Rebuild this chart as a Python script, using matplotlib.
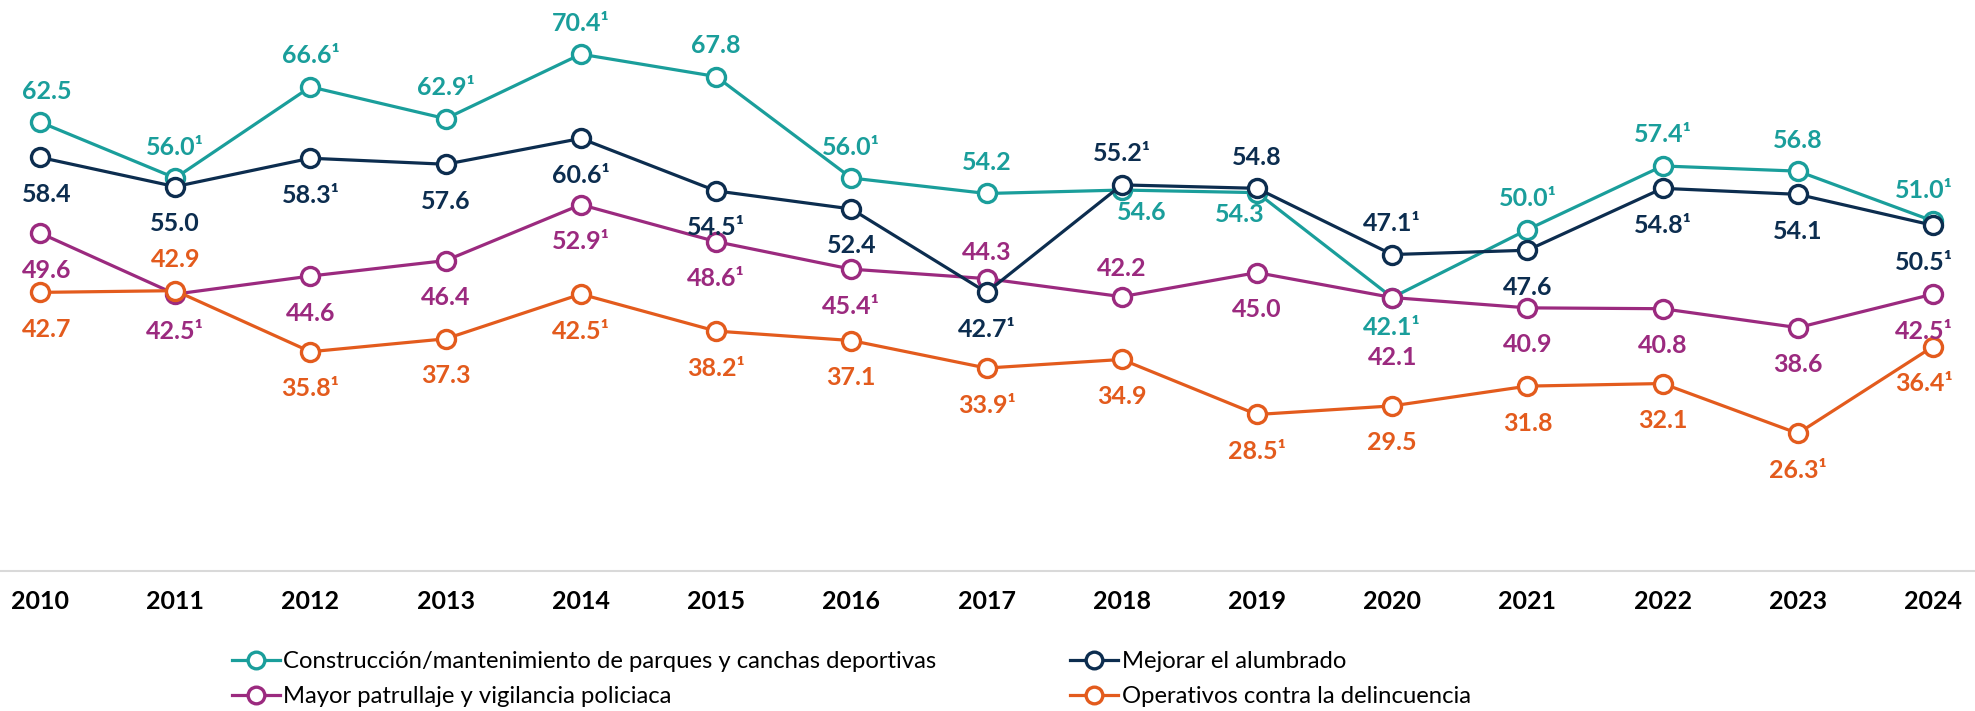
import matplotlib.pyplot as plt
from matplotlib.lines import Line2D

years = ["2010", "2011", "2012", "2013", "2014", "2015", "2016", "2017",
         "2018", "2019", "2020", "2021", "2022", "2023", "2024"]

parques = [62.5, 56.0, 66.6, 62.9, 70.4, 67.8, 56.0, 54.2, 54.6, 54.3, 42.1, 50.0, 57.4, 56.8, 51.0]
parques_sup = [0, 1, 1, 1, 1, 0, 1, 0, 0, 0, 1, 1, 1, 0, 1]
parques_pos = "aaaaaaaabbbaaaa"

alumbrado = [58.4, 55.0, 58.3, 57.6, 60.6, 54.5, 52.4, 42.7, 55.2, 54.8, 47.1, 47.6, 54.8, 54.1, 50.5]
alumbrado_sup = [0, 0, 1, 0, 1, 1, 0, 1, 1, 0, 1, 0, 1, 0, 1]
alumbrado_pos = "bbbbbbbbaaabbbb"

patrullaje = [49.6, 42.5, 44.6, 46.4, 52.9, 48.6, 45.4, 44.3, 42.2, 45.0, 42.1, 40.9, 40.8, 38.6, 42.5]
patrullaje_sup = [0, 1, 0, 0, 1, 1, 1, 0, 0, 0, 0, 0, 0, 0, 1]
patrullaje_pos = "bbbbbbbaabbbbbb"

operativos = [42.7, 42.9, 35.8, 37.3, 42.5, 38.2, 37.1, 33.9, 34.9, 28.5, 29.5, 31.8, 32.1, 26.3, 36.4]
operativos_sup = [0, 0, 1, 0, 1, 1, 0, 1, 0, 1, 0, 0, 0, 1, 1]
operativos_pos = "babbbbbbbbbbbbb"

TEAL, NAVY, PURPLE, ORANGE = "#1A9E9B", "#0C2D4F", "#9B2A7F", "#E35B1D"

series = [
    ("Construcción/mantenimiento de parques y canchas deportivas", parques, parques_sup, parques_pos, TEAL),
    ("Mayor patrullaje y vigilancia policiaca", patrullaje, patrullaje_sup, patrullaje_pos, PURPLE),
    ("Mejorar el alumbrado", alumbrado, alumbrado_sup, alumbrado_pos, NAVY),
    ("Operativos contra la delincuencia", operativos, operativos_sup, operativos_pos, ORANGE),
]

# label offsets tweaked where labels crowd (pixels)
nudge_x = {(TEAL, 8): 20, (TEAL, 9): -17}
nudge_y = {(TEAL, 8): -22, (TEAL, 9): -22, (TEAL, 10): -30,
           (PURPLE, 10): -60, (PURPLE, 7): 26, (PURPLE, 8): 28}

FONT = "Lato"

fig = plt.figure(figsize=(19.75, 7.11), dpi=100)
ax = fig.add_axes([0, 1 - 571 / 711, 1, 571 / 711])
x = list(range(len(years)))

handles = []
for name, vals, sup, pos, col in series:
    ax.plot(x, vals, color=col, lw=2.3, marker="o", ms=13, mfc="white",
            mec=col, mew=2.4, zorder=3, clip_on=False)
    for i, v in enumerate(vals):
        txt = f"{v:.1f}" + ("¹" if sup[i] else "")
        dy = 31 if pos[i] == "a" else -37
        dy = nudge_y.get((col, i), dy)
        dx = nudge_x.get((col, i), 0)
        if i == 0:
            dx += 7
        if i == len(vals) - 1:
            dx -= 9
        ax.annotate(txt, (i, v), xytext=(dx, dy), textcoords="offset pixels",
                    ha="center", va="center", color=col, fontsize=18,
                    fontweight="bold", family=FONT, zorder=4)
    handles.append(Line2D([], [], color=col, lw=2.3, marker="o", ms=12,
                          mfc="white", mec=col, mew=2.4, label=name))

ax.set_xlim(-0.296, 14.31)
ax.set_ylim(10.3, 76.7)
ax.set_yticks([])
ax.set_xticks(x)
ax.set_xticklabels(years, fontsize=18, fontweight="bold", family=FONT)
ax.tick_params(axis="x", length=0, pad=14)
for s in ["top", "left", "right"]:
    ax.spines[s].set_visible(False)
ax.spines["bottom"].set_color("#D9D9D9")
ax.spines["bottom"].set_linewidth(1.5)

fig.legend(handles=handles, ncol=2, loc="upper left",
           bbox_to_anchor=(232 / 1975, 1 - 651 / 711), frameon=False,
           prop={"family": FONT, "size": 17.2}, handlelength=2.0,
           handletextpad=0.15, columnspacing=5.6, labelspacing=0.6,
           borderpad=0, borderaxespad=0)

fig.savefig("out.png", dpi=100)
